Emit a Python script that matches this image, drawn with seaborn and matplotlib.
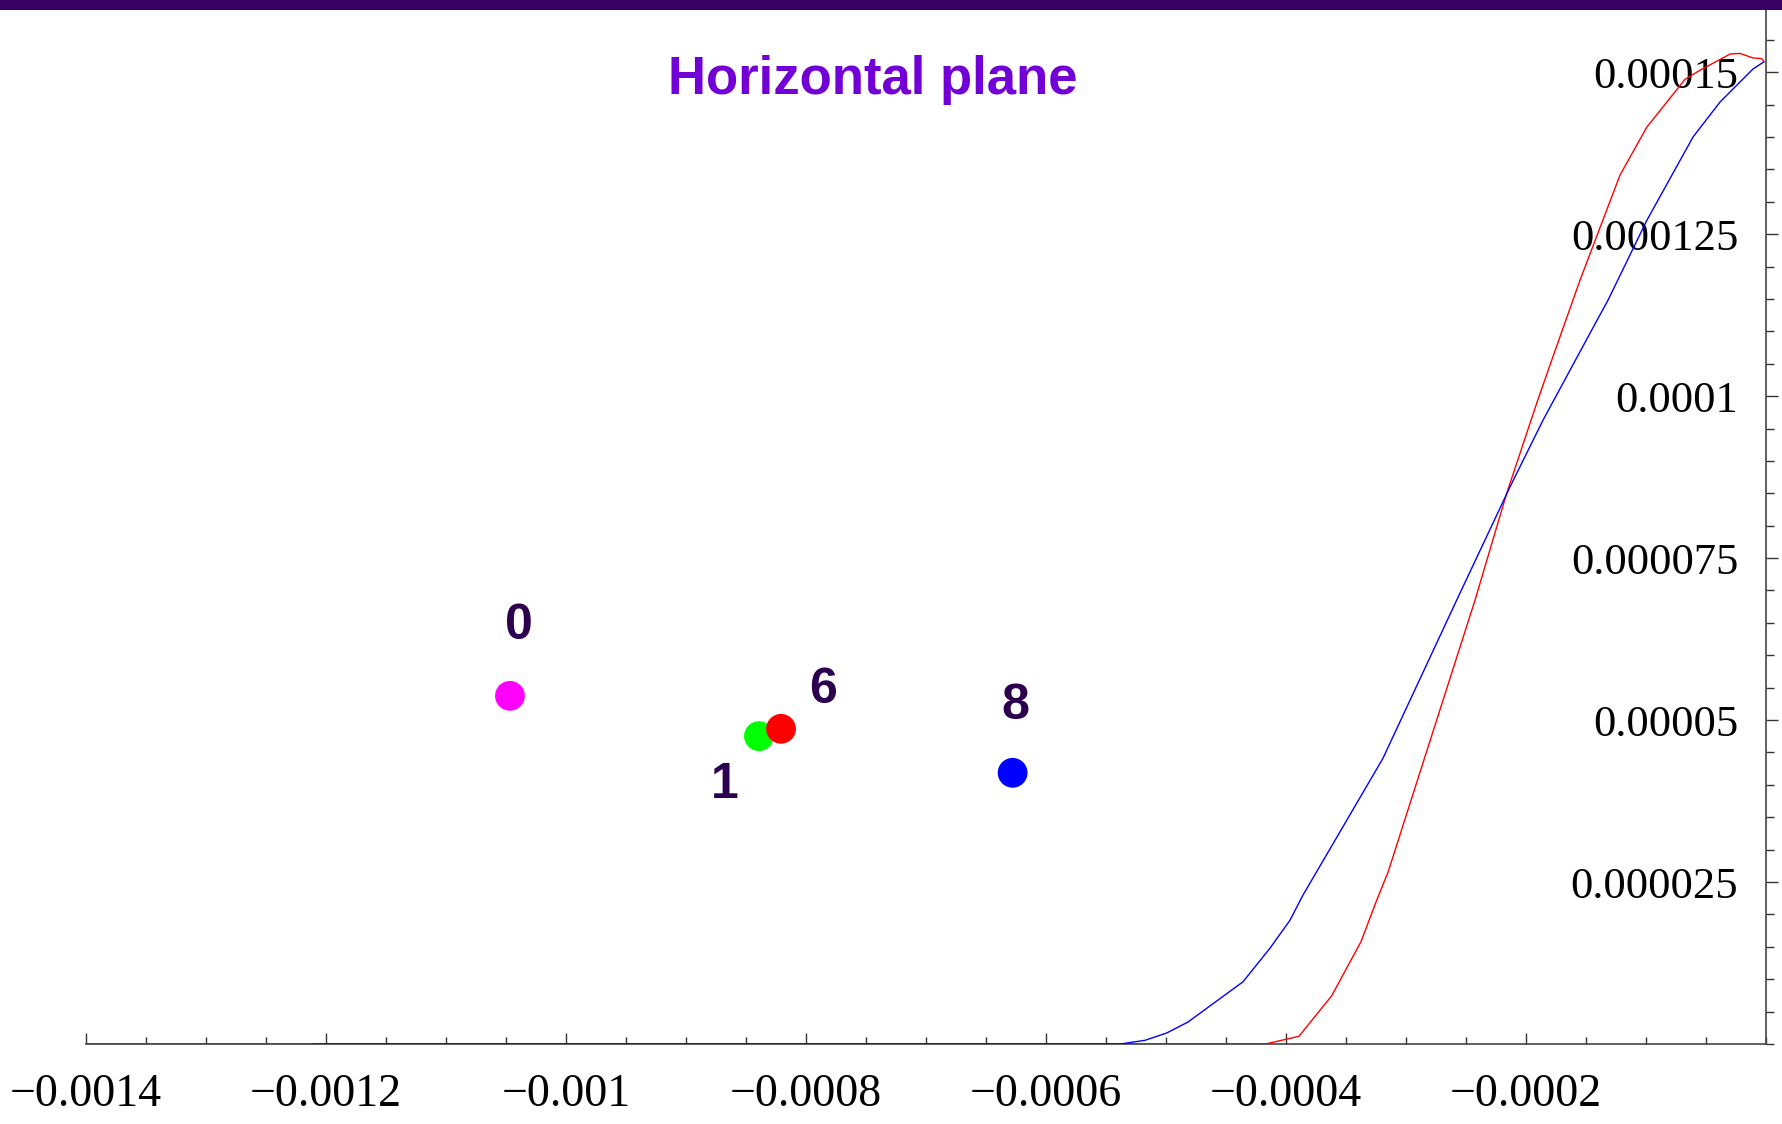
import matplotlib
matplotlib.use('Agg')
import matplotlib.pyplot as plt
import seaborn as sns
from matplotlib.ticker import MultipleLocator, FixedLocator, FixedFormatter
from matplotlib.patches import Rectangle

# blue curve
blue_x = [-0.001211, -0.000538, -0.0005175, -0.0004994, -0.0004817, -0.0004358,
          -0.0004133, -0.0003967, -0.0003858, -0.0003192, -0.0002578, -0.0002133,
          -0.0001858, -0.0001467, -0.0001317, -0.0000994, -0.0000608, -0.0000383,
          -0.0000108, -0.0000017]
blue_y = [0.0, 0.0, 0.57e-6, 1.70e-6, 3.39e-6, 9.61e-6,
          1.48e-5, 1.91e-5, 2.30e-5, 4.41e-5, 6.85e-5, 8.60e-5,
          9.63e-5, 1.097e-4, 1.148e-4, 1.271e-4, 1.400e-4, 1.454e-4,
          1.505e-4, 1.516e-4]

# red curve
red_x = [-0.0014, -0.000417, -0.0003892, -0.0003619, -0.0003375, -0.0003244,
         -0.000315, -0.0002425, -0.0002161, -0.0001911, -0.00018, -0.000155,
         -0.0001217, -0.0000994, -0.0000675, -0.000055, -0.00003, -0.0000217,
         -0.0000108, -0.0000036, -0.0000017]
red_y = [0.0, 0.0, 1.19e-6, 7.45e-6, 1.58e-5, 2.22e-5,
         2.65e-5, 6.85e-5, 8.50e-5, 9.89e-5, 1.048e-4, 1.179e-4,
         1.341e-4, 1.415e-4, 1.489e-4, 1.503e-4, 1.528e-4, 1.529e-4,
         1.522e-4, 1.521e-4, 1.516e-4]

# points and their numbers
pt_name = ['0', '1', '6', '8']
pt_x = [-0.0010467, -0.0008392, -0.0008208, -0.0006278]
pt_y = [5.374e-5, 4.752e-5, 4.865e-5, 4.186e-5]
pt_colors = {'0': '#ff00ff', '1': '#00ff00', '6': '#ff0000', '8': '#0000ff'}
lab_x = [-0.0010392, -0.0008677, -0.0007858, -0.0006253]
lab_y = [6.249e-5, 3.796e-5, 5.262e-5, 5.015e-5]

xtick_vals = [-0.0014, -0.0012, -0.001, -0.0008, -0.0006, -0.0004, -0.0002]
xtick_labels = ['\u22120.0014', '\u22120.0012', '\u22120.001', '\u22120.0008',
                '\u22120.0006', '\u22120.0004', '\u22120.0002']
ytick_vals = [0.000025, 0.00005, 0.000075, 0.0001, 0.000125, 0.00015]
ytick_labels = ['0.000025', '0.00005', '0.000075', '0.0001', '0.000125', '0.00015']

sns.set_theme(style='white')
plt.rcParams['font.family'] = ['Liberation Serif', 'DejaVu Serif']

fig = plt.figure(figsize=(17.83, 11.24), dpi=100)
ax = fig.add_axes([0.04823, 0.07117, 0.94224, 0.91993])

sns.lineplot(x=red_x, y=red_y, color='#ff0000', lw=1.0, sort=False,
             estimator=None, ax=ax, zorder=1)
sns.lineplot(x=blue_x, y=blue_y, color='#0000ff', lw=1.0, sort=False,
             estimator=None, ax=ax, zorder=3)
sns.scatterplot(x=pt_x, y=pt_y, hue=pt_name, palette=pt_colors, s=460,
                linewidth=0, legend=False, ax=ax, zorder=4)

for s, x, y in zip(pt_name, lab_x, lab_y):
    ax.text(x, y, s, ha='center', va='baseline', fontsize=36, fontweight='bold',
            color='#2c004f', family='Liberation Sans')

ax.set_xlim(-0.0014, 0)
ax.set_ylim(0, 1.596e-4)

for side in ['left', 'top']:
    ax.spines[side].set_visible(False)
for side in ['bottom', 'right']:
    ax.spines[side].set_color('#444444')
    ax.spines[side].set_linewidth(1.2)
    ax.spines[side].set_zorder(2)

ax.xaxis.set_major_locator(FixedLocator(xtick_vals))
ax.xaxis.set_major_formatter(FixedFormatter(xtick_labels))
ax.xaxis.set_minor_locator(MultipleLocator(0.00005))
ax.tick_params(axis='x', which='major', direction='in', length=7.7, width=1,
               color='#333333', pad=21, labelsize=33, labelcolor='black', bottom=True)
ax.tick_params(axis='x', which='minor', direction='in', length=5.3, width=1,
               color='#333333', bottom=True)

ax.yaxis.tick_right()
ax.yaxis.set_major_locator(FixedLocator(ytick_vals))
ax.yaxis.set_major_formatter(FixedFormatter(ytick_labels))
ax.yaxis.set_minor_locator(MultipleLocator(0.000005))
ax.tick_params(axis='y', which='major', direction='out', length=8.4, width=1,
               color='#333333', pad=-28.4, labelsize=32, labelcolor='black',
               right=True, left=False)
ax.tick_params(axis='y', which='minor', direction='out', length=6, width=1,
               color='#333333', right=True, left=False)
for t in ax.get_yticklabels():
    t.set_horizontalalignment('right')

ax.set_xlabel('')
ax.set_ylabel('')

fig.text(872.5 / 1783, 1 - 94 / 1124, 'Horizontal plane', ha='center', va='baseline',
         fontsize=38, fontweight='bold', color='#7200d6', family='Liberation Sans')

# dark band on top
fig.add_artist(Rectangle((0, 1 - 9.5 / 1124), 1, 9.5 / 1124, transform=fig.transFigure,
                         color='#380062', lw=0))

fig.savefig('out.png', dpi=100)
